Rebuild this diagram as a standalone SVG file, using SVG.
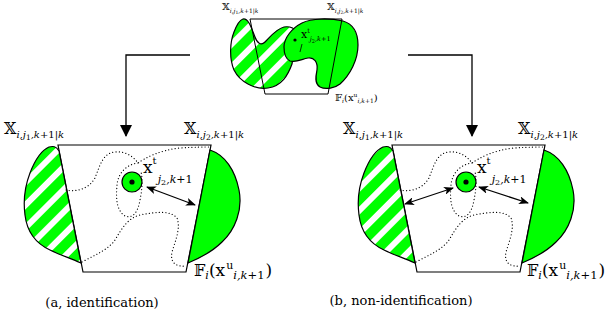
<svg xmlns="http://www.w3.org/2000/svg" width="611" height="325" viewBox="0 0 611 325">
<style>
text{font-family:"DejaVu Serif","Liberation Serif",serif;fill:#000}
.cap{font-size:13px}
.it{font-style:italic}
.edge{fill:none;stroke:#000;stroke-width:1.3}
.trap{fill:#fff;stroke:#000;stroke-width:1.2}
.solid{fill:#00ff00;stroke:#000;stroke-width:1.2}
.hatch{fill:url(#stripes);stroke:#000;stroke-width:1.2}
.dots{fill:none;stroke:#000;stroke-width:1.2;stroke-dasharray:0.1 3.2;stroke-linecap:round}
.dbl{fill:none;stroke:#000;stroke-width:1.3;marker-start:url(#tip);marker-end:url(#tip)}
</style>
<defs>
<pattern id="stripes" patternUnits="userSpaceOnUse" width="16" height="16" patternTransform="rotate(45)">
<rect width="16" height="16" fill="#00ff00"/>
<rect width="6" height="16" fill="#fff"/>
</pattern>
<marker id="tip" markerUnits="userSpaceOnUse" markerWidth="10" markerHeight="8" refX="9" refY="4" orient="auto-start-reverse">
<path d="M0,0 L10,4 L0,8 L2.5,4 Z" fill="#000"/>
</marker>
<marker id="head" markerUnits="userSpaceOnUse" markerWidth="12" markerHeight="12" refX="11" refY="6" orient="auto">
<path d="M0,0 L12,6 L0,12 Z" fill="#000"/>
</marker>
</defs>

<g id="connectors">
<path class="edge" d="M190,55 H126 V136" marker-end="url(#head)"/>
<path class="edge" d="M408,55 H472 V136" marker-end="url(#head)"/>
</g>

<g id="thumbnail">
<path class="hatch" d="M243,19 C249,18 252,30 255,37 C257,43 261,46 265,42 C270,37 276,29 284,27 C290,26 294,28 297,32 L292,64 C288,75 282,86 268,88 C255,90 240,82 234,70 C229,58 230,42 234,32 C237,24 240,20 243,19 Z"/>
<path class="solid" d="M284,47 C284,38 292,28 302,23 C312,18 330,18 343,21 C353,24 358,33 358,45 C358,60 350,75 340,84 C335,88 326,90 320,87 C314,84 316,75 317,70 C318,62 314,57 308,58 C302,59 296,63 290,61 C286,59 284,53 284,47 Z"/>
<polygon points="250,19 342,19 328,94 265,94" fill="none" stroke="#000" stroke-width="1"/>
<circle cx="295" cy="40" r="1.6" fill="#000"/>
<line x1="302" y1="44" x2="300" y2="52" stroke="#000" stroke-width="0.8"/>
<text x="301" y="38"><tspan font-size="11">x</tspan><tspan font-size="6.5" dy="-5">t</tspan><tspan font-size="6.5" dy="8" class="it">j</tspan><tspan font-size="5" dy="1.5">2</tspan><tspan font-size="6.5" dy="-1.5" class="it">,k</tspan><tspan font-size="6.5">+1</tspan></text>
<text x="222" y="10" fill="#333"><tspan font-size="10">𝕏</tspan><tspan font-size="6" dy="2.5" class="it">i,j</tspan><tspan font-size="4.5" dy="1.5">1</tspan><tspan font-size="6" dy="-1.5" class="it">,k</tspan><tspan font-size="6">+1|</tspan><tspan font-size="6" class="it">k</tspan></text>
<text x="327" y="10" fill="#333"><tspan font-size="10">𝕏</tspan><tspan font-size="6" dy="2.5" class="it">i,j</tspan><tspan font-size="4.5" dy="1.5">2</tspan><tspan font-size="6" dy="-1.5" class="it">,k</tspan><tspan font-size="6">+1|</tspan><tspan font-size="6" class="it">k</tspan></text>
<text x="335" y="101" fill="#333"><tspan font-size="10">𝔽</tspan><tspan font-size="6" dy="2" class="it">i</tspan><tspan font-size="10" dy="-2">(x</tspan><tspan font-size="6" dy="-4">u</tspan><tspan font-size="6" dy="6" class="it">i,k</tspan><tspan font-size="6">+1</tspan><tspan font-size="10" dy="-2">)</tspan></text>
</g>

<g id="panel-a">
<polygon class="trap" points="58,145 211,145 186,272 83,272"/>
<path class="hatch" d="M59,151 C56,146 53,146 49,147 C42,150 35,160 30,173 C25,186 23,200 25,215 C27,232 35,243 50,250 C60,255 70,258 81,263 Z"/>
<path class="solid" d="M210,150 C225,155 235,170 239,190 C243,210 235,230 222,242 C212,252 200,258 188,263 Z"/>
<path class="dots" d="M66,190 C75,192 88,190 95,178 C100,165 103,153 115,152 C125,151 133,156 138,163 C145,158 160,150 180,148 C195,147 205,147 211,147"/>
<path class="dots" d="M138,163 C128,164 118,172 117,185 C116,198 116,210 125,216 C133,219 138,212 140,200 C142,190 143,180 141,172"/>
<path class="dots" d="M82,262 C95,255 108,250 115,240 C122,228 128,218 140,215 C155,212 170,210 177,218 C181,228 175,242 172,252 C170,262 175,267 186,266"/>
<circle class="solid" cx="132" cy="182" r="10"/>
<circle cx="132" cy="182" r="2.6" fill="#000"/>
<path class="dbl" d="M147,187 L195,205"/>
<text x="143" y="173"><tspan font-size="17">x</tspan><tspan font-size="10" dy="-9">t</tspan><tspan font-size="11" dy="19" dx="1" class="it">j</tspan><tspan font-size="8" dy="2">2</tspan><tspan font-size="11" dy="-2" class="it">,k</tspan><tspan font-size="11">+1</tspan></text>
<text x="4" y="134"><tspan font-size="16">𝕏</tspan><tspan font-size="10" dy="4" class="it">i,j</tspan><tspan font-size="7.5" dy="2">1</tspan><tspan font-size="10" dy="-2" class="it">,k</tspan><tspan font-size="10">+1|</tspan><tspan font-size="10" class="it">k</tspan></text>
<text x="184" y="134"><tspan font-size="16">𝕏</tspan><tspan font-size="10" dy="4" class="it">i,j</tspan><tspan font-size="7.5" dy="2">2</tspan><tspan font-size="10" dy="-2" class="it">,k</tspan><tspan font-size="10">+1|</tspan><tspan font-size="10" class="it">k</tspan></text>
<text x="194" y="276"><tspan font-size="16">𝔽</tspan><tspan font-size="11" dy="3" class="it">i</tspan><tspan font-size="17" dy="-3">(x</tspan><tspan font-size="11" dy="-7" dx="1">u</tspan><tspan font-size="11.5" dy="10" class="it">i,k</tspan><tspan font-size="11.5">+1</tspan><tspan font-size="17" dy="-3" dx="1">)</tspan></text>
</g>

<g id="panel-b">
<polygon class="trap" points="392,145 545,145 520,272 417,272"/>
<path class="hatch" d="M393,151 C390,146 387,146 383,147 C376,150 369,160 364,173 C359,186 357,200 359,215 C361,232 369,243 384,250 C394,255 404,258 415,263 Z"/>
<path class="solid" d="M544,150 C559,155 569,170 573,190 C577,210 569,230 556,242 C546,252 534,258 522,263 Z"/>
<path class="dots" d="M400,190 C409,192 422,190 429,178 C434,165 437,153 449,152 C459,151 467,156 472,163 C479,158 494,150 514,148 C529,147 539,147 545,147"/>
<path class="dots" d="M472,163 C462,164 452,172 451,185 C450,198 450,210 459,216 C467,219 472,212 474,200 C476,190 477,180 475,172"/>
<path class="dots" d="M416,262 C429,255 442,250 449,240 C456,228 462,218 474,215 C489,212 504,210 511,218 C515,228 509,242 506,252 C504,262 509,267 520,266"/>
<circle class="solid" cx="466" cy="182" r="10"/>
<circle cx="466" cy="182" r="2.6" fill="#000"/>
<path class="dbl" d="M453,188 L405,204"/>
<path class="dbl" d="M479,187 L528,203"/>
<text x="477" y="173"><tspan font-size="17">x</tspan><tspan font-size="10" dy="-9">t</tspan><tspan font-size="11" dy="19" dx="1" class="it">j</tspan><tspan font-size="8" dy="2">2</tspan><tspan font-size="11" dy="-2" class="it">,k</tspan><tspan font-size="11">+1</tspan></text>
<text x="343" y="134"><tspan font-size="16">𝕏</tspan><tspan font-size="10" dy="4" class="it">i,j</tspan><tspan font-size="7.5" dy="2">1</tspan><tspan font-size="10" dy="-2" class="it">,k</tspan><tspan font-size="10">+1|</tspan><tspan font-size="10" class="it">k</tspan></text>
<text x="518" y="134"><tspan font-size="16">𝕏</tspan><tspan font-size="10" dy="4" class="it">i,j</tspan><tspan font-size="7.5" dy="2">2</tspan><tspan font-size="10" dy="-2" class="it">,k</tspan><tspan font-size="10">+1|</tspan><tspan font-size="10" class="it">k</tspan></text>
<text x="527" y="276"><tspan font-size="16">𝔽</tspan><tspan font-size="11" dy="3" class="it">i</tspan><tspan font-size="17" dy="-3">(x</tspan><tspan font-size="11" dy="-7" dx="1">u</tspan><tspan font-size="11.5" dy="10" class="it">i,k</tspan><tspan font-size="11.5">+1</tspan><tspan font-size="17" dy="-3" dx="1">)</tspan></text>
</g>

<g id="caption-a"><text class="cap" x="102" y="307" text-anchor="middle">(a, identification)</text></g>
<g id="caption-b"><text class="cap" x="401" y="305" text-anchor="middle">(b, non-identification)</text></g>
</svg>
